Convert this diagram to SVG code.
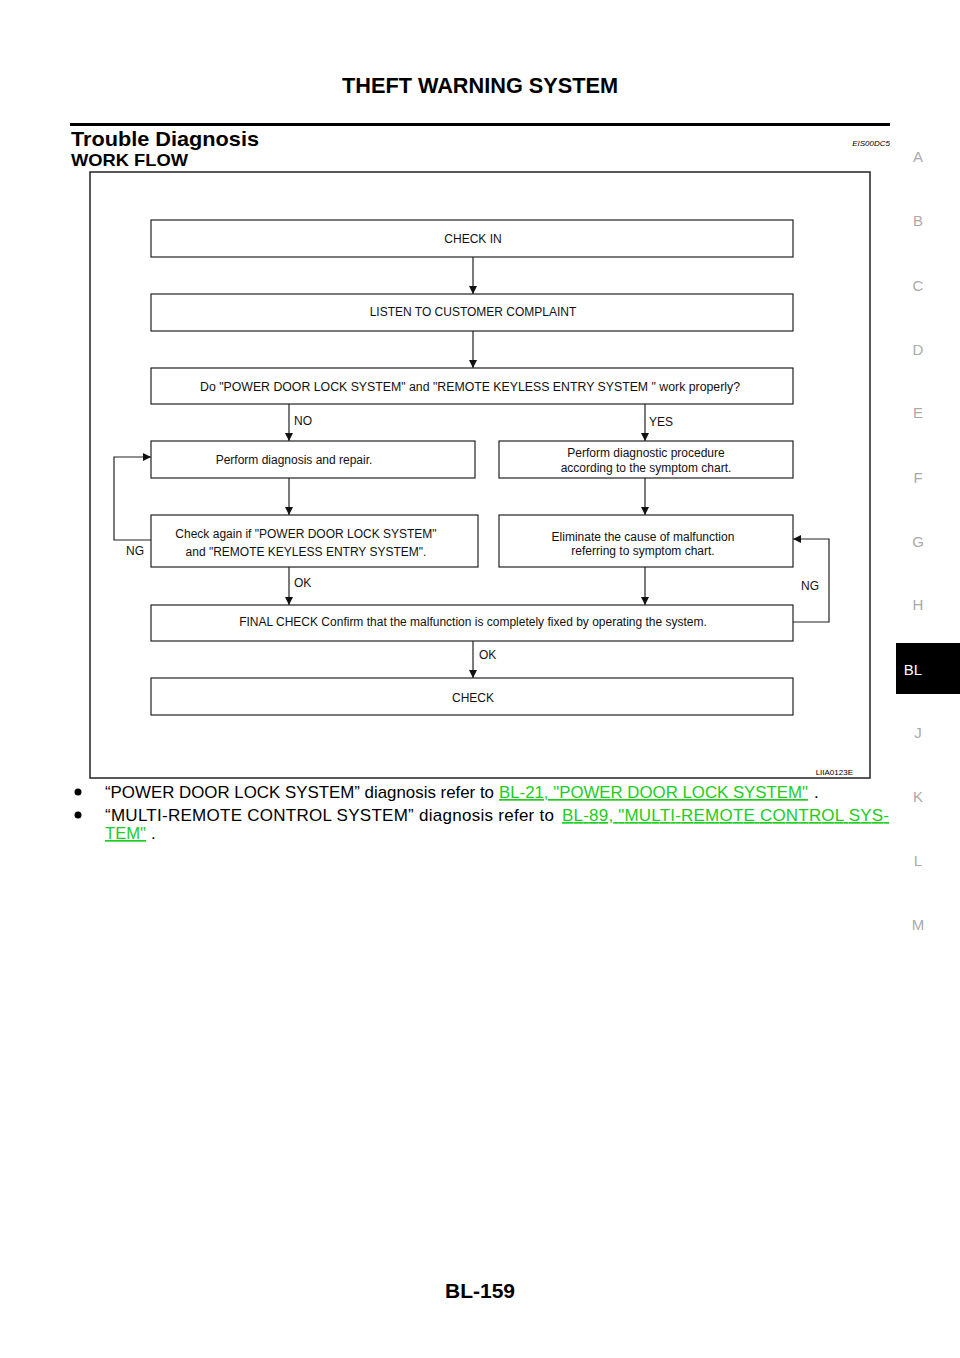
<svg xmlns="http://www.w3.org/2000/svg" width="960" height="1358" viewBox="0 0 960 1358">
<style>
.t{font-family:"Liberation Sans",Arial,sans-serif;fill:#000}
.bx{fill:#fff;stroke:#222;stroke-width:1.2}
.n{font-family:"Liberation Sans",Arial,sans-serif;font-size:12px;fill:#111;text-anchor:middle}
.lb{font-family:"Liberation Sans",Arial,sans-serif;font-size:12px;fill:#111}
.ln{fill:none;stroke:#222;stroke-width:1.2}
.tab{font-family:"Liberation Sans",Arial,sans-serif;font-size:15px;fill:#aaa;text-anchor:middle}
.bt{font-family:"Liberation Sans",Arial,sans-serif;font-size:17px;fill:#000}
.link{fill:#22cc22;text-decoration:underline}
</style>
<defs>
<marker id="ah" markerWidth="8" markerHeight="10" refX="8" refY="5" orient="auto" markerUnits="userSpaceOnUse">
<path d="M0,1 L8,5 L0,9 Z" fill="#111"/>
</marker>
</defs>
<rect width="960" height="1358" fill="#fff"/>
<text class="t" x="480" y="93" font-size="22" font-weight="bold" text-anchor="middle" textLength="276" lengthAdjust="spacingAndGlyphs">THEFT WARNING SYSTEM</text>
<rect x="70" y="123" width="820" height="3" fill="#000"/>
<text class="t" x="71" y="146" font-size="21" font-weight="bold" textLength="188" lengthAdjust="spacingAndGlyphs">Trouble Diagnosis</text>
<text class="t" x="890" y="146" font-size="8" font-style="italic" text-anchor="end">EIS00DC5</text>
<text class="t" x="71" y="166" font-size="17" font-weight="bold" textLength="117" lengthAdjust="spacingAndGlyphs">WORK FLOW</text>

<rect x="90" y="172" width="780" height="606" fill="none" stroke="#222" stroke-width="1.5"/>

<g id="connectors">
<line class="ln" x1="473" y1="257" x2="473" y2="294" marker-end="url(#ah)"/>
<line class="ln" x1="473" y1="331" x2="473" y2="368" marker-end="url(#ah)"/>
<line class="ln" x1="289" y1="404" x2="289" y2="441" marker-end="url(#ah)"/>
<line class="ln" x1="645" y1="404" x2="645" y2="441" marker-end="url(#ah)"/>
<line class="ln" x1="289" y1="478" x2="289" y2="515" marker-end="url(#ah)"/>
<line class="ln" x1="645" y1="478" x2="645" y2="515" marker-end="url(#ah)"/>
<line class="ln" x1="289" y1="567" x2="289" y2="605" marker-end="url(#ah)"/>
<line class="ln" x1="645" y1="567" x2="645" y2="605" marker-end="url(#ah)"/>
<line class="ln" x1="473" y1="641" x2="473" y2="678" marker-end="url(#ah)"/>
<polyline class="ln" points="151,540 114,540 114,457 151,457" marker-end="url(#ah)"/>
<polyline class="ln" points="793,622 829,622 829,539 793,539" marker-end="url(#ah)"/>
<text class="lb" x="294" y="425">NO</text>
<text class="lb" x="649" y="426">YES</text>
<text class="lb" x="126" y="555">NG</text>
<text class="lb" x="294" y="587">OK</text>
<text class="lb" x="801" y="590">NG</text>
<text class="lb" x="479" y="659">OK</text>
</g>

<g id="n1"><rect class="bx" x="151" y="220" width="642" height="37"/><text class="n" x="473" y="243">CHECK IN</text></g>
<g id="n2"><rect class="bx" x="151" y="294" width="642" height="37"/><text class="n" x="473" y="316">LISTEN TO CUSTOMER COMPLAINT</text></g>
<g id="n3"><rect class="bx" x="151" y="368" width="642" height="36"/><text class="n" x="470" y="391" textLength="540" lengthAdjust="spacingAndGlyphs">Do "POWER DOOR LOCK SYSTEM" and "REMOTE  KEYLESS  ENTRY  SYSTEM " work properly?</text></g>
<g id="n4"><rect class="bx" x="151" y="441" width="324" height="37"/><text class="n" x="294" y="464">Perform diagnosis and repair.</text></g>
<g id="n5"><rect class="bx" x="499" y="441" width="294" height="37"/><text class="n" x="646" y="457">Perform diagnostic procedure</text><text class="n" x="646" y="472">according to the symptom chart.</text></g>
<g id="n6"><rect class="bx" x="151" y="515" width="327" height="52"/><text class="n" x="306" y="538">Check again if "POWER DOOR LOCK SYSTEM"</text><text class="n" x="306" y="556">and "REMOTE  KEYLESS  ENTRY SYSTEM".</text></g>
<g id="n7"><rect class="bx" x="499" y="515" width="294" height="52"/><text class="n" x="643" y="541">Eliminate the cause of malfunction</text><text class="n" x="643" y="555">referring to symptom chart.</text></g>
<g id="n8"><rect class="bx" x="151" y="605" width="642" height="36"/><text class="n" x="473" y="626">FINAL CHECK Confirm that the malfunction is completely fixed by operating the system.</text></g>
<g id="n9"><rect class="bx" x="151" y="678" width="642" height="37"/><text class="n" x="473" y="702">CHECK</text></g>

<text class="t" x="853" y="775" font-size="8" text-anchor="end">LIIA0123E</text>

<circle cx="78" cy="792" r="3.5" fill="#000"/>
<text class="bt" x="105" y="798" textLength="389" lengthAdjust="spacingAndGlyphs">“POWER DOOR LOCK SYSTEM” diagnosis refer to</text>
<text class="bt link" x="499" y="798" textLength="309" lengthAdjust="spacingAndGlyphs">BL-21, "POWER DOOR LOCK SYSTEM"</text>
<text class="bt" x="814" y="798">.</text>
<circle cx="78" cy="815" r="3.5" fill="#000"/>
<text class="bt" x="105" y="821" textLength="449" lengthAdjust="spacing">“MULTI-REMOTE CONTROL SYSTEM” diagnosis refer to</text>
<text class="bt link" x="562" y="821" textLength="327" lengthAdjust="spacing">BL-89, "MULTI-REMOTE CONTROL SYS-</text>
<text class="bt link" x="105" y="839" textLength="41" lengthAdjust="spacingAndGlyphs">TEM"</text>
<text class="bt" x="151" y="839">.</text>

<text class="tab" x="918" y="162">A</text>
<text class="tab" x="918" y="226">B</text>
<text class="tab" x="918" y="291">C</text>
<text class="tab" x="918" y="355">D</text>
<text class="tab" x="918" y="418">E</text>
<text class="tab" x="918" y="483">F</text>
<text class="tab" x="918" y="547">G</text>
<text class="tab" x="918" y="610">H</text>
<rect x="896" y="643" width="64" height="51" fill="#000"/>
<text x="913" y="675" font-family="Liberation Sans, Arial, sans-serif" font-size="15" fill="#fff" text-anchor="middle">BL</text>
<text class="tab" x="918" y="738">J</text>
<text class="tab" x="918" y="802">K</text>
<text class="tab" x="918" y="866">L</text>
<text class="tab" x="918" y="930">M</text>

<text class="t" x="480" y="1298" font-size="21" font-weight="bold" text-anchor="middle">BL-159</text>
</svg>
